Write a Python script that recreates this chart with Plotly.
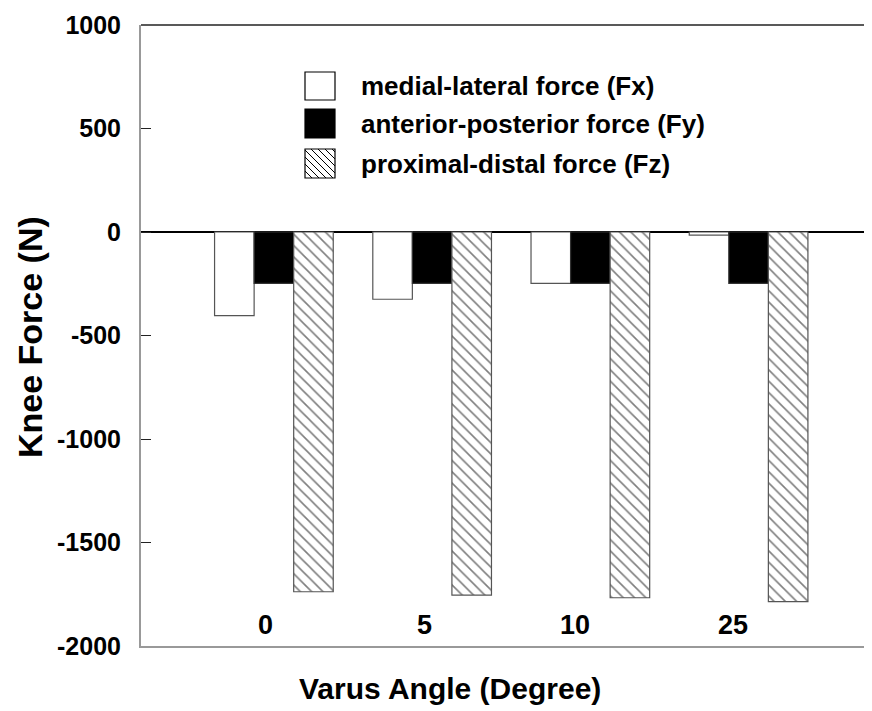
import plotly.graph_objects as go

# ---- data ----
angles = ["0", "5", "10", "25"]
fx = [-404, -325, -248, -15]      # medial-lateral force (Fx)
fy = [-248, -248, -248, -248]     # anterior-posterior force (Fy)
fz = [-1738, -1754, -1767, -1786] # proximal-distal force (Fz)
series_names = ["medial-lateral force (Fx)",
                "anterior-posterior force (Fy)",
                "proximal-distal force (Fz)"]
y_ticks = [1000, 500, 0, -500, -1000, -1500, -2000]
y_title = "Knee Force (N)"
x_title = "Varus Angle (Degree)"

# page has an 8px body margin; plot area in window pixels: x 141..872, y 25..646
OFF = 8
WIN_W, WIN_H = 872, 711
PL, PR, PT, PB = 141, 872, 25, 646
W, H = WIN_W - OFF, WIN_H - OFF
ML, MT = PL - OFF, PT - OFF
MR = W - (PR - OFF)
MB = H - (PB - OFF)
PW, PH = PR - PL, PB - PT

def px(xp):
    return (xp - PL) / PW

def py(yp):
    return (PB - yp) / PH

FONT = "Liberation Sans, Arial, Helvetica, sans-serif"
xpos = list(range(len(angles)))

fig = go.Figure()
fig.add_trace(go.Bar(x=xpos, y=fx, name=series_names[0],
                     marker=dict(color="white", line=dict(color="#555", width=1.2))))
fig.add_trace(go.Bar(x=xpos, y=fy, name=series_names[1],
                     marker=dict(color="black", line=dict(color="#333", width=1.2))))
fig.add_trace(go.Bar(x=xpos, y=fz, name=series_names[2],
                     marker=dict(color="white", line=dict(color="#555", width=1.2),
                                 pattern=dict(shape="\\", size=8, solidity=0.2,
                                              fgcolor="black", bgcolor="white"))))

fig.update_layout(
    width=W, height=H,
    margin=dict(l=ML, r=MR, t=MT, b=MB, pad=0),
    paper_bgcolor="white", plot_bgcolor="white",
    barmode="group", bargap=0.25, bargroupgap=0,
    showlegend=False,
    font=dict(family=FONT, color="black"),
)
fig.update_xaxes(range=[-0.84, 3.78], showticklabels=False, ticks="",
                 showgrid=False, zeroline=False,
                 showline=True, linecolor="#999", linewidth=2)
fig.update_yaxes(range=[-2000, 1000], tickvals=y_ticks,
                 ticktext=[str(v) for v in y_ticks],
                 ticks="inside", ticklen=10, tickcolor="#222", tickwidth=1,
                 showgrid=False, zeroline=True, zerolinecolor="black", zerolinewidth=1.5,
                 showline=True, linecolor="#999", linewidth=2,
                 ticklabelstandoff=13,
                 tickfont=dict(family=FONT, size=25, weight="bold", color="black"))

shapes = []
# top border
shapes.append(dict(type="line", xref="paper", yref="paper", x0=0, x1=1, y0=1, y1=1,
                   line=dict(color="#222", width=1.5)))

annotations = []
# category labels inside the plot, right-aligned at group centres
for i, lab in enumerate(angles):
    annotations.append(dict(x=xpos[i] + 0.01, y=py(625), xref="x", yref="paper",
                            text=lab, showarrow=False, xanchor="right", yanchor="middle",
                            font=dict(family=FONT, size=27, weight="bold", color="black")))
# axis titles
annotations.append(dict(x=px(30), y=py(337), xref="paper", yref="paper", text=y_title,
                        textangle=-90, showarrow=False, xanchor="center", yanchor="middle",
                        font=dict(family=FONT, size=34, weight="bold", color="black")))
annotations.append(dict(x=px(450), y=py(688), xref="paper", yref="paper", text=x_title,
                        showarrow=False, xanchor="center", yanchor="middle",
                        font=dict(family=FONT, size=30, weight="bold", color="black")))

# custom legend
box_x0, box_x1 = 305, 335
rows = [(72, 100), (109, 138), (149, 178)]
fills = ["white", "black", "white"]
for k, (y0, y1) in enumerate(rows):
    shapes.append(dict(type="rect", xref="paper", yref="paper",
                       x0=px(box_x0), x1=px(box_x1), y0=py(y1), y1=py(y0),
                       fillcolor=fills[k], line=dict(color="black", width=1.2)))
    annotations.append(dict(x=px(359), y=py((y0 + y1) / 2), xref="paper", yref="paper",
                            text=series_names[k], showarrow=False,
                            xanchor="left", yanchor="middle",
                            font=dict(family=FONT, size=26, weight="bold", color="black")))
# hatch lines in third legend box ("\" direction)
y0, y1 = rows[2]
step = 7
c = y0 - box_x1 + 3
segs = []
while c < y1 - box_x0:
    xa = max(box_x0, y0 - c)
    xb = min(box_x1, y1 - c)
    if xb > xa:
        segs.append(f"M{px(xa)},{py(xa + c)} L{px(xb)},{py(xb + c)}")
    c += step
shapes.append(dict(type="path", xref="paper", yref="paper", path=" ".join(segs),
                   line=dict(color="black", width=1)))

fig.update_layout(shapes=shapes, annotations=annotations)
fig.write_html("out.html")
